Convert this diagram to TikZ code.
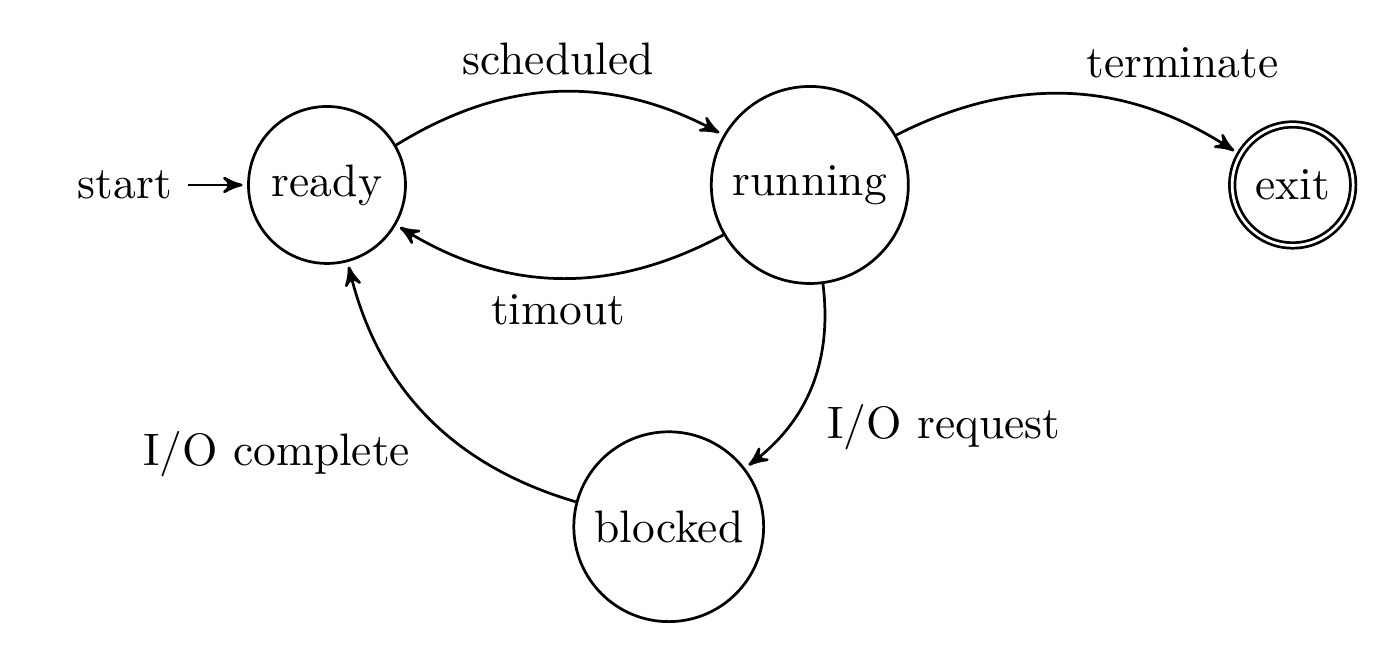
\documentclass[tikz,border=0pt]{standalone}
\usetikzlibrary{automata,positioning,arrows}
\begin{document}
\begin{tikzpicture}[->,>=stealth',shorten >=1pt,auto,node distance=3.73cm,on grid,semithick]
		\useasboundingbox (-2.526,-3.685) rectangle (8.289,1.429);
		\node[state,initial] (ready) {ready};
		\node[state] (running) [right=of ready] {running};
		\node[state,accepting] (exit) [right=of running] {exit};
		\node[state] (blocked) [below right=2.64cm and 2.64cm of ready] {blocked};
		\path (ready) edge[bend left] node {scheduled} (running)
			(running) edge[bend left] node {timout} (ready)
				edge[bend left] node[above right] {terminate} (exit)
				edge[bend left] node {I/O request} (blocked)
			(blocked) edge[bend left] node {I/O complete} (ready);
	\end{tikzpicture}
\end{document}
